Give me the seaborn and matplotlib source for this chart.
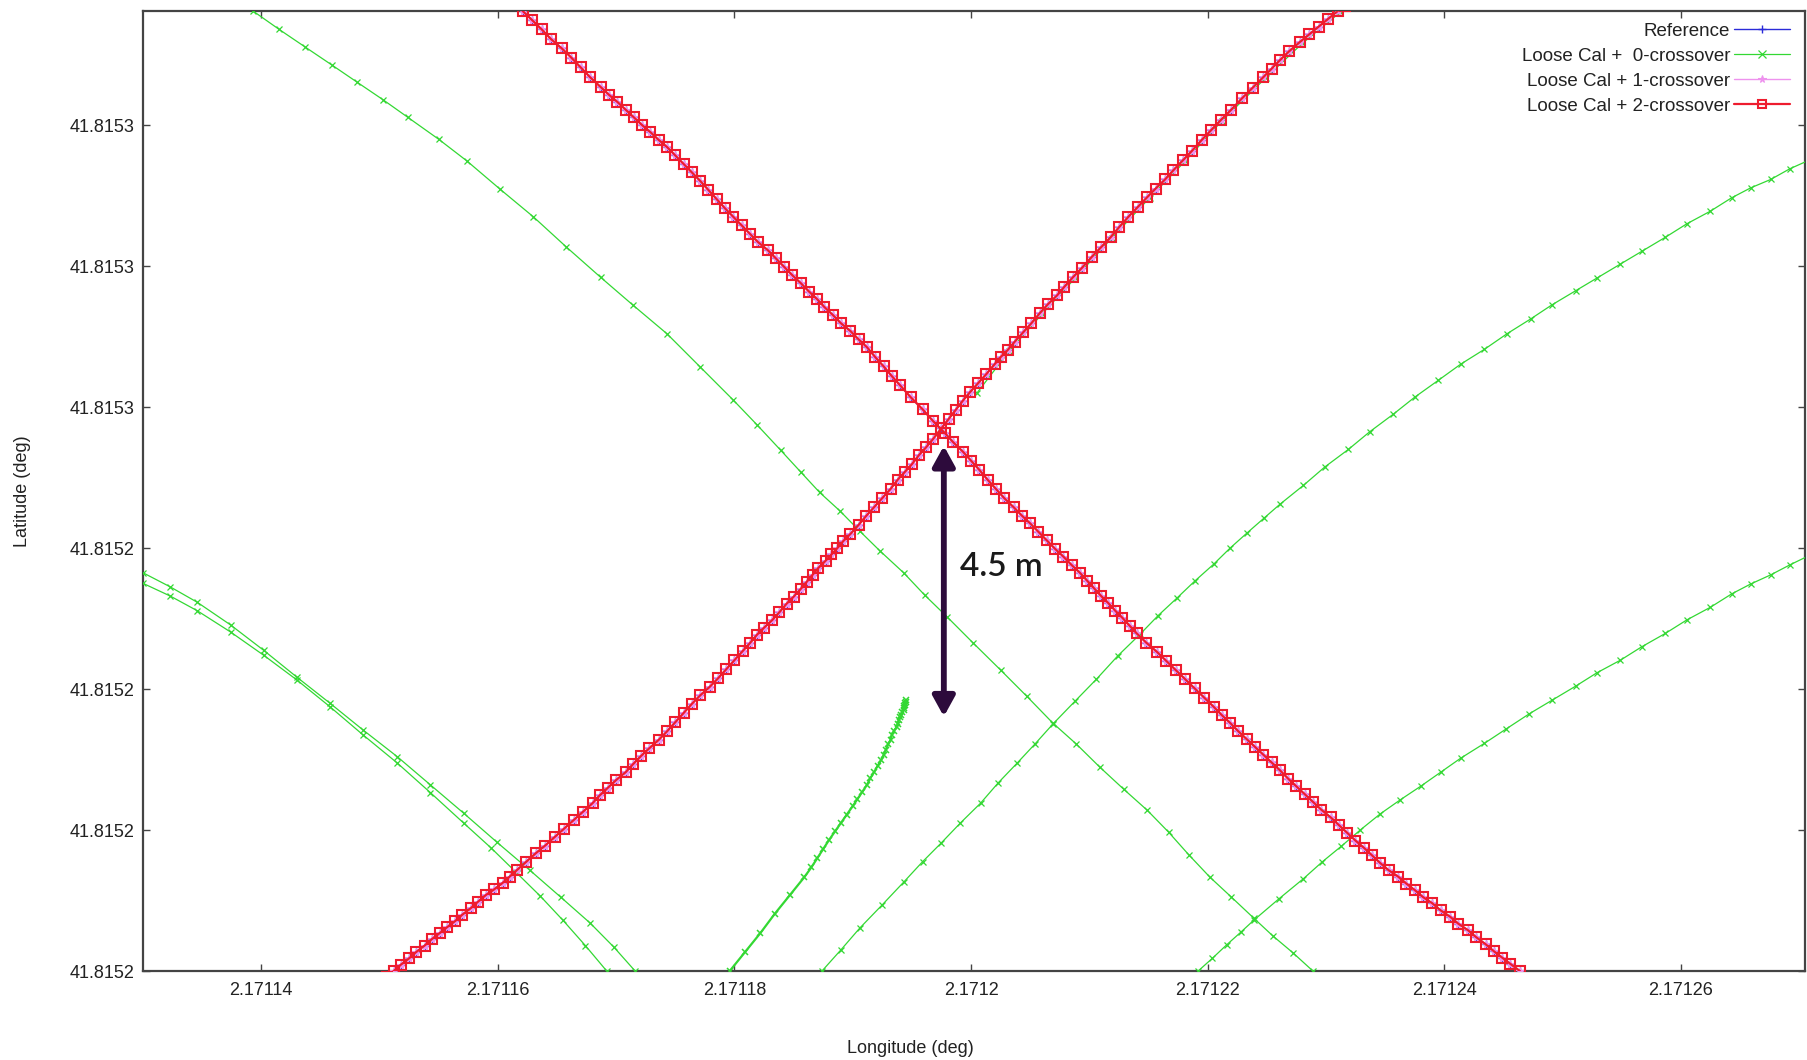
import matplotlib
matplotlib.use("Agg")
import matplotlib.pyplot as plt
import seaborn as sns
from matplotlib.ticker import FixedLocator, FuncFormatter

# ---------------- data (degrees) ----------------
lon_ticks = [2.17114, 2.17116, 2.17118, 2.17120, 2.17122, 2.17124, 2.17126]
lat_ticks = [41.81518, 41.81520, 41.81522, 41.81524, 41.81526, 41.81528, 41.81530]
series_labels = ["Reference", "Loose Cal +  0-crossover",
                 "Loose Cal + 1-crossover", "Loose Cal + 2-crossover"]

# reference track, pass running down-right
ref_desc_lon = [2.1711609, 2.1711621, 2.1711629, 2.1711637, 2.1711645, 2.1711654, 2.1711662, 2.1711670,
                2.1711678, 2.1711687, 2.1711694, 2.1711701, 2.1711708, 2.1711715, 2.1711722, 2.1711729,
                2.1711736, 2.1711743, 2.1711750, 2.1711757, 2.1711764, 2.1711771, 2.1711778, 2.1711785,
                2.1711792, 2.1711799, 2.1711806, 2.1711813, 2.1711820, 2.1711828, 2.1711835, 2.1711842,
                2.1711849, 2.1711856, 2.1711863, 2.1711870, 2.1711876, 2.1711883, 2.1711890, 2.1711898,
                2.1711905, 2.1711912, 2.1711919, 2.1711926, 2.1711933, 2.1711940, 2.1711949, 2.1711959,
                2.1711968, 2.1711978, 2.1711985, 2.1711993, 2.1712000, 2.1712007, 2.1712014, 2.1712021,
                2.1712028, 2.1712036, 2.1712043, 2.1712050, 2.1712057, 2.1712064, 2.1712071, 2.1712078,
                2.1712085, 2.1712092, 2.1712098, 2.1712104, 2.1712110, 2.1712116, 2.1712122, 2.1712128,
                2.1712134, 2.1712140, 2.1712148, 2.1712157, 2.1712165, 2.1712173, 2.1712181, 2.1712189,
                2.1712197, 2.1712205, 2.1712212, 2.1712219, 2.1712226, 2.1712233, 2.1712240, 2.1712247,
                2.1712254, 2.1712261, 2.1712268, 2.1712275, 2.1712282, 2.1712289, 2.1712296, 2.1712304,
                2.1712311, 2.1712318, 2.1712325, 2.1712332, 2.1712339, 2.1712346, 2.1712353, 2.1712361,
                2.1712368, 2.1712375, 2.1712382, 2.1712390, 2.1712397, 2.1712405, 2.1712412, 2.1712420,
                2.1712427, 2.1712435, 2.1712442, 2.1712449, 2.1712456, 2.1712464]
ref_desc_lat = [41.8153180, 41.8153162, 41.8153149, 41.8153136, 41.8153122, 41.8153109, 41.8153096, 41.8153082,
                41.8153068, 41.8153054, 41.8153043, 41.8153033, 41.8153022, 41.8153011, 41.8153000, 41.8152990,
                41.8152979, 41.8152969, 41.8152957, 41.8152945, 41.8152933, 41.8152921, 41.8152908, 41.8152895,
                41.8152882, 41.8152870, 41.8152858, 41.8152846, 41.8152834, 41.8152823, 41.8152811, 41.8152799,
                41.8152787, 41.8152776, 41.8152764, 41.8152753, 41.8152742, 41.8152731, 41.8152719, 41.8152708,
                41.8152696, 41.8152685, 41.8152671, 41.8152658, 41.8152644, 41.8152631, 41.8152614, 41.8152597,
                41.8152580, 41.8152563, 41.8152550, 41.8152537, 41.8152524, 41.8152511, 41.8152497, 41.8152484,
                41.8152471, 41.8152458, 41.8152446, 41.8152435, 41.8152423, 41.8152411, 41.8152399, 41.8152388,
                41.8152376, 41.8152365, 41.8152354, 41.8152343, 41.8152332, 41.8152322, 41.8152311, 41.8152301,
                41.8152290, 41.8152279, 41.8152266, 41.8152253, 41.8152240, 41.8152227, 41.8152214, 41.8152201,
                41.8152188, 41.8152175, 41.8152163, 41.8152152, 41.8152140, 41.8152129, 41.8152118, 41.8152107,
                41.8152096, 41.8152085, 41.8152073, 41.8152062, 41.8152051, 41.8152040, 41.8152029, 41.8152018,
                41.8152007, 41.8151996, 41.8151985, 41.8151975, 41.8151964, 41.8151953, 41.8151943, 41.8151934,
                41.8151924, 41.8151915, 41.8151905, 41.8151896, 41.8151886, 41.8151877, 41.8151867, 41.8151858,
                41.8151848, 41.8151838, 41.8151828, 41.8151819, 41.8151810, 41.8151800]

# reference track, pass running up-right (slower, denser samples near the crossing)
ref_rise_lon = [2.1711500, 2.1711506, 2.1711512, 2.1711518, 2.1711525, 2.1711531, 2.1711538, 2.1711544,
                2.1711551, 2.1711557, 2.1711564, 2.1711570, 2.1711577, 2.1711583, 2.1711590, 2.1711597,
                2.1711604, 2.1711610, 2.1711616, 2.1711624, 2.1711632, 2.1711640, 2.1711648, 2.1711656,
                2.1711664, 2.1711672, 2.1711680, 2.1711686, 2.1711693, 2.1711700, 2.1711708, 2.1711714,
                2.1711721, 2.1711728, 2.1711736, 2.1711743, 2.1711750, 2.1711757, 2.1711764, 2.1711771,
                2.1711779, 2.1711786, 2.1711793, 2.1711800, 2.1711807, 2.1711813, 2.1711819, 2.1711825,
                2.1711832, 2.1711838, 2.1711844, 2.1711850, 2.1711856, 2.1711861, 2.1711866, 2.1711871,
                2.1711877, 2.1711882, 2.1711887, 2.1711892, 2.1711898, 2.1711905, 2.1711911, 2.1711918,
                2.1711925, 2.1711932, 2.1711938, 2.1711944, 2.1711950, 2.1711956, 2.1711962, 2.1711968,
                2.1711975, 2.1711981, 2.1711987, 2.1711993, 2.1711999, 2.1712006, 2.1712013, 2.1712020,
                2.1712025, 2.1712031, 2.1712037, 2.1712044, 2.1712051, 2.1712058, 2.1712065, 2.1712073,
                2.1712079, 2.1712086, 2.1712094, 2.1712102, 2.1712110, 2.1712118, 2.1712125, 2.1712133,
                2.1712141, 2.1712149, 2.1712156, 2.1712164, 2.1712171, 2.1712179, 2.1712187, 2.1712195,
                2.1712203, 2.1712211, 2.1712220, 2.1712229, 2.1712238, 2.1712247, 2.1712254, 2.1712261,
                2.1712269, 2.1712278, 2.1712286, 2.1712294, 2.1712302, 2.1712310, 2.1712316, 2.1712322]
ref_rise_lat = [41.8151784, 41.8151792, 41.8151800, 41.8151809, 41.8151818, 41.8151827, 41.8151836, 41.8151845,
                41.8151854, 41.8151862, 41.8151871, 41.8151880, 41.8151889, 41.8151898, 41.8151908, 41.8151916,
                41.8151925, 41.8151934, 41.8151943, 41.8151955, 41.8151967, 41.8151978, 41.8151990, 41.8152002,
                41.8152014, 41.8152026, 41.8152038, 41.8152049, 41.8152060, 41.8152071, 41.8152082, 41.8152093,
                41.8152105, 41.8152116, 41.8152128, 41.8152140, 41.8152153, 41.8152166, 41.8152179, 41.8152191,
                41.8152203, 41.8152215, 41.8152228, 41.8152241, 41.8152254, 41.8152265, 41.8152277, 41.8152287,
                41.8152298, 41.8152309, 41.8152321, 41.8152331, 41.8152342, 41.8152352, 41.8152362, 41.8152372,
                41.8152382, 41.8152391, 41.8152400, 41.8152410, 41.8152420, 41.8152433, 41.8152445, 41.8152458,
                41.8152471, 41.8152484, 41.8152497, 41.8152508, 41.8152519, 41.8152532, 41.8152543, 41.8152555,
                41.8152570, 41.8152583, 41.8152596, 41.8152609, 41.8152621, 41.8152634, 41.8152647, 41.8152661,
                41.8152671, 41.8152681, 41.8152693, 41.8152706, 41.8152719, 41.8152733, 41.8152746, 41.8152759,
                41.8152771, 41.8152784, 41.8152798, 41.8152813, 41.8152827, 41.8152841, 41.8152855, 41.8152870,
                41.8152884, 41.8152898, 41.8152910, 41.8152923, 41.8152936, 41.8152950, 41.8152964, 41.8152979,
                41.8152993, 41.8153007, 41.8153022, 41.8153038, 41.8153053, 41.8153068, 41.8153080, 41.8153092,
                41.8153105, 41.8153118, 41.8153129, 41.8153140, 41.8153151, 41.8153162, 41.8153169, 41.8153177]

# 1- and 2-crossover solutions coincide with the reference at this scale
c1_desc_lon, c1_desc_lat = ref_desc_lon, ref_desc_lat
c1_rise_lon, c1_rise_lat = ref_rise_lon, ref_rise_lat
c2_desc_lon, c2_desc_lat = ref_desc_lon, ref_desc_lat
c2_rise_lon, c2_rise_lat = ref_rise_lon, ref_rise_lat

# 0-crossover solution: separate passes
c0_west_lon = [2.1711382, 2.1711393, 2.1711415, 2.1711437, 2.1711460, 2.1711481, 2.1711503, 2.1711524,
               2.1711550, 2.1711574, 2.1711602, 2.1711630, 2.1711658, 2.1711687, 2.1711714, 2.1711743,
               2.1711771, 2.1711799, 2.1711819, 2.1711839, 2.1711856, 2.1711872, 2.1711889, 2.1711906,
               2.1711923, 2.1711943, 2.1711961, 2.1711980, 2.1712002, 2.1712025, 2.1712047, 2.1712069,
               2.1712089, 2.1712109, 2.1712129, 2.1712149, 2.1712167, 2.1712184, 2.1712202, 2.1712220,
               2.1712239, 2.1712255, 2.1712272, 2.1712289, 2.1712299]
c0_west_lat = [41.8153175, 41.8153162, 41.8153136, 41.8153111, 41.8153085, 41.8153061, 41.8153036, 41.8153011,
               41.8152980, 41.8152949, 41.8152909, 41.8152870, 41.8152827, 41.8152784, 41.8152745, 41.8152704,
               41.8152657, 41.8152610, 41.8152575, 41.8152539, 41.8152508, 41.8152479, 41.8152453, 41.8152424,
               41.8152396, 41.8152365, 41.8152333, 41.8152302, 41.8152265, 41.8152227, 41.8152190, 41.8152152,
               41.8152122, 41.8152089, 41.8152058, 41.8152028, 41.8151997, 41.8151965, 41.8151933, 41.8151905,
               41.8151875, 41.8151850, 41.8151826, 41.8151800, 41.8151784]

c0_pair_a_lon = [2.1711289, 2.1711300, 2.1711323, 2.1711346, 2.1711374, 2.1711402, 2.1711430, 2.1711458,
                 2.1711486, 2.1711515, 2.1711543, 2.1711571, 2.1711599, 2.1711627, 2.1711653, 2.1711678,
                 2.1711698, 2.1711716, 2.1711725]
c0_pair_a_lat = [41.8152375, 41.8152365, 41.8152345, 41.8152323, 41.8152291, 41.8152255, 41.8152217, 41.8152180,
                 41.8152142, 41.8152104, 41.8152064, 41.8152024, 41.8151983, 41.8151943, 41.8151905, 41.8151868,
                 41.8151834, 41.8151800, 41.8151784]
c0_pair_b_lon = [2.1711289, 2.1711300, 2.1711323, 2.1711346, 2.1711374, 2.1711402, 2.1711430, 2.1711458,
                 2.1711486, 2.1711515, 2.1711543, 2.1711571, 2.1711594, 2.1711616, 2.1711636, 2.1711655,
                 2.1711674, 2.1711692, 2.1711700]
c0_pair_b_lat = [41.8152360, 41.8152350, 41.8152332, 41.8152311, 41.8152281, 41.8152248, 41.8152213, 41.8152175,
                 41.8152135, 41.8152095, 41.8152053, 41.8152010, 41.8151975, 41.8151939, 41.8151906, 41.8151872,
                 41.8151836, 41.8151800, 41.8151784]

# pass that slows to a stop (dense samples near its end)
c0_stop_lon = [2.1711790, 2.1711796, 2.1711809, 2.1711822, 2.1711834, 2.1711847, 2.1711859, 2.1711865,
               2.1711870, 2.1711875, 2.1711880, 2.1711885, 2.1711890, 2.1711895, 2.1711900, 2.1711904,
               2.1711908, 2.1711912, 2.1711915, 2.1711918, 2.1711921, 2.1711924, 2.1711926, 2.1711928,
               2.1711930, 2.1711932, 2.1711933, 2.1711935, 2.1711937, 2.1711938, 2.1711939, 2.1711940,
               2.1711941, 2.1711942, 2.1711943, 2.1711943, 2.1711943, 2.1711944, 2.1711944, 2.1711945,
               2.1711945]
c0_stop_lat = [41.8151784, 41.8151800, 41.8151827, 41.8151854, 41.8151881, 41.8151908, 41.8151933, 41.8151947,
               41.8151960, 41.8151973, 41.8151986, 41.8151998, 41.8152010, 41.8152022, 41.8152034, 41.8152044,
               41.8152054, 41.8152064, 41.8152074, 41.8152082, 41.8152091, 41.8152099, 41.8152106, 41.8152114,
               41.8152122, 41.8152128, 41.8152135, 41.8152141, 41.8152146, 41.8152151, 41.8152156, 41.8152160,
               41.8152163, 41.8152167, 41.8152170, 41.8152173, 41.8152176, 41.8152178, 41.8152180, 41.8152182,
               41.8152184]

c0_mid_lon = [2.1711866, 2.1711874, 2.1711890, 2.1711906, 2.1711925, 2.1711943, 2.1711959, 2.1711975,
              2.1711991, 2.1712008, 2.1712023, 2.1712039, 2.1712054, 2.1712069, 2.1712088, 2.1712106,
              2.1712124, 2.1712143, 2.1712158, 2.1712174, 2.1712189, 2.1712205, 2.1712219, 2.1712233,
              2.1712248, 2.1712261, 2.1712281, 2.1712299, 2.1712319, 2.1712337, 2.1712357, 2.1712375,
              2.1712395, 2.1712414, 2.1712434, 2.1712453, 2.1712473, 2.1712491, 2.1712511, 2.1712529,
              2.1712549, 2.1712567, 2.1712587, 2.1712605, 2.1712625, 2.1712643, 2.1712659, 2.1712676,
              2.1712692, 2.1712708, 2.1712722]
c0_mid_lat = [41.8151784, 41.8151800, 41.8151830, 41.8151861, 41.8151894, 41.8151926, 41.8151955, 41.8151982,
              41.8152010, 41.8152038, 41.8152067, 41.8152095, 41.8152122, 41.8152150, 41.8152183, 41.8152214,
              41.8152247, 41.8152278, 41.8152304, 41.8152329, 41.8152353, 41.8152377, 41.8152400, 41.8152421,
              41.8152443, 41.8152462, 41.8152489, 41.8152515, 41.8152540, 41.8152565, 41.8152590, 41.8152614,
              41.8152638, 41.8152661, 41.8152682, 41.8152704, 41.8152725, 41.8152745, 41.8152765, 41.8152783,
              41.8152803, 41.8152821, 41.8152841, 41.8152860, 41.8152878, 41.8152897, 41.8152911, 41.8152923,
              41.8152938, 41.8152950, 41.8152962]

c0_east_lon = [2.1712183, 2.1712192, 2.1712204, 2.1712216, 2.1712228, 2.1712239, 2.1712260, 2.1712281,
               2.1712297, 2.1712313, 2.1712329, 2.1712346, 2.1712363, 2.1712380, 2.1712397, 2.1712414,
               2.1712434, 2.1712452, 2.1712472, 2.1712491, 2.1712511, 2.1712529, 2.1712549, 2.1712567,
               2.1712587, 2.1712605, 2.1712625, 2.1712643, 2.1712659, 2.1712676, 2.1712692, 2.1712708,
               2.1712722]
c0_east_lat = [41.8151784, 41.8151800, 41.8151818, 41.8151837, 41.8151855, 41.8151872, 41.8151902, 41.8151931,
               41.8151955, 41.8151977, 41.8152000, 41.8152023, 41.8152043, 41.8152062, 41.8152082, 41.8152102,
               41.8152123, 41.8152143, 41.8152165, 41.8152184, 41.8152204, 41.8152223, 41.8152241, 41.8152260,
               41.8152279, 41.8152298, 41.8152316, 41.8152335, 41.8152349, 41.8152362, 41.8152376, 41.8152389,
               41.8152400]

c0_overlap_lon = [2.1712005, 2.1712032, 2.1712060, 2.1712088, 2.1712119, 2.1712151, 2.1712181, 2.1712212,
                  2.1712249, 2.1712280, 2.1712312, 2.1712324]
c0_overlap_lat = [41.8152620, 41.8152679, 41.8152732, 41.8152783, 41.8152840, 41.8152897, 41.8152949,
                  41.8153006, 41.8153067, 41.8153116, 41.8153160, 41.8153177]

# annotation: vertical gap between the two solutions
gap_lon = 2.1711977
gap_lat_top = 41.8152545
gap_lat_bottom = 41.8152161
gap_text = "4.5 m"
gap_text_lon = 2.1711991
gap_text_lat = 41.8152373

# ---------------- style ----------------
sns.set_theme(style="ticks")
plt.rcParams['font.family'] = ['Liberation Sans', 'DejaVu Sans']

BLUE = "#2b2bd9"
GREEN = "#33d833"
PINK = "#ee92ee"
RED = "#ee1c2e"
AXC = "#444444"

fig = plt.figure(figsize=(18.08, 10.60), dpi=100)
fig.patch.set_facecolor("white")
ax = fig.add_axes([143 / 1808, 89 / 1060, 1662 / 1808, 960 / 1060])
ax.set_facecolor("white")


def track(lon, lat, color, marker, ms, lw, mew, z, label=None, mfc=None):
    sns.lineplot(x=lon, y=lat, sort=False, estimator=None, ax=ax, color=color,
                 linewidth=lw, marker=marker, markersize=ms,
                 markeredgecolor=color, markerfacecolor=(mfc if mfc is not None else color),
                 markeredgewidth=mew, label=label, zorder=z, legend=False)


# Reference (blue +)
track(ref_desc_lon, ref_desc_lat, BLUE, "+", 6, 1.0, 1.0, 2, series_labels[0])
track(ref_rise_lon, ref_rise_lat, BLUE, "+", 6, 1.0, 1.0, 2)

# 0-crossover (green x)
track(c0_west_lon, c0_west_lat, GREEN, "x", 4.5, 0.9, 0.9, 3, series_labels[1])
for lo, la in [(c0_pair_a_lon, c0_pair_a_lat), (c0_pair_b_lon, c0_pair_b_lat),
               (c0_mid_lon, c0_mid_lat), (c0_east_lon, c0_east_lat),
               (c0_overlap_lon, c0_overlap_lat)]:
    track(lo, la, GREEN, "x", 4.5, 0.9, 0.9, 3)
track(c0_stop_lon, c0_stop_lat, GREEN, "x", 5, 1.6, 1.1, 3)

# 1-crossover (pink *)
track(c1_desc_lon, c1_desc_lat, PINK, "*", 6, 1.0, 0.8, 4, series_labels[2])
track(c1_rise_lon, c1_rise_lat, PINK, "*", 6, 1.0, 0.8, 4)

# 2-crossover (red open squares)
track(c2_desc_lon, c2_desc_lat, RED, "s", 6.5, 1.6, 1.5, 5, series_labels[3], mfc="none")
track(c2_rise_lon, c2_rise_lat, RED, "s", 6.5, 1.6, 1.5, 5, mfc="none")

# ---------------- axes ----------------
ax.set_xlim(2.17113, 2.1712705)
ax.set_ylim(41.81518, 41.8153162)
ax.xaxis.set_major_locator(FixedLocator(lon_ticks))
ax.yaxis.set_major_locator(FixedLocator(lat_ticks))
ax.xaxis.set_major_formatter(FuncFormatter(lambda v, p: f"{v:g}"))
ax.yaxis.set_major_formatter(FuncFormatter(lambda v, p: f"{v:.4f}"))
ax.tick_params(axis="both", direction="in", length=5, width=1.0, color=AXC,
               top=True, right=True, labelsize=13, labelcolor="#222222")
ax.tick_params(axis="x", pad=8)
ax.tick_params(axis="y", pad=6)
for s in ax.spines.values():
    s.set_visible(True)
    s.set_color(AXC)
    s.set_linewidth(1.6)

ax.set_xlabel("Longitude (deg)", fontsize=13, color="#222222")
ax.set_ylabel("Latitude (deg)", fontsize=13, color="#222222")
ax.xaxis.set_label_coords(0.462, -0.072)
ax.yaxis.set_label_coords(-0.0674, 0.5)

# legend (gnuplot style: text right-aligned, sample after it)
handles, labels = ax.get_legend_handles_labels()
hmap = dict(zip(labels, handles))
leg = ax.legend([hmap[l] for l in series_labels], series_labels, loc="upper right",
                bbox_to_anchor=(0.991, 0.988), frameon=False, markerfirst=False,
                fontsize=13.5, handlelength=3.0, handletextpad=0.2, labelspacing=0.42,
                borderpad=0, borderaxespad=0, numpoints=1)
for t in leg.get_texts():
    t.set_color("#222222")
for h in leg.legend_handles:
    h.set_markersize(5.5)

# annotation arrow and text
ax.annotate("", xy=(gap_lon, gap_lat_top), xytext=(gap_lon, gap_lat_bottom),
            arrowprops=dict(arrowstyle="<|-|>,head_length=1.0,head_width=0.55",
                            color="#2d0b3c", lw=4.2, shrinkA=0, shrinkB=0),
            zorder=8)
ax.text(gap_text_lon, gap_text_lat, gap_text, fontsize=24, family=["Lato", "DejaVu Sans"],
        weight="semibold", color="#1a1a1a", ha="left", va="center", zorder=9)

fig.savefig("out.png", dpi=100, facecolor="white")
